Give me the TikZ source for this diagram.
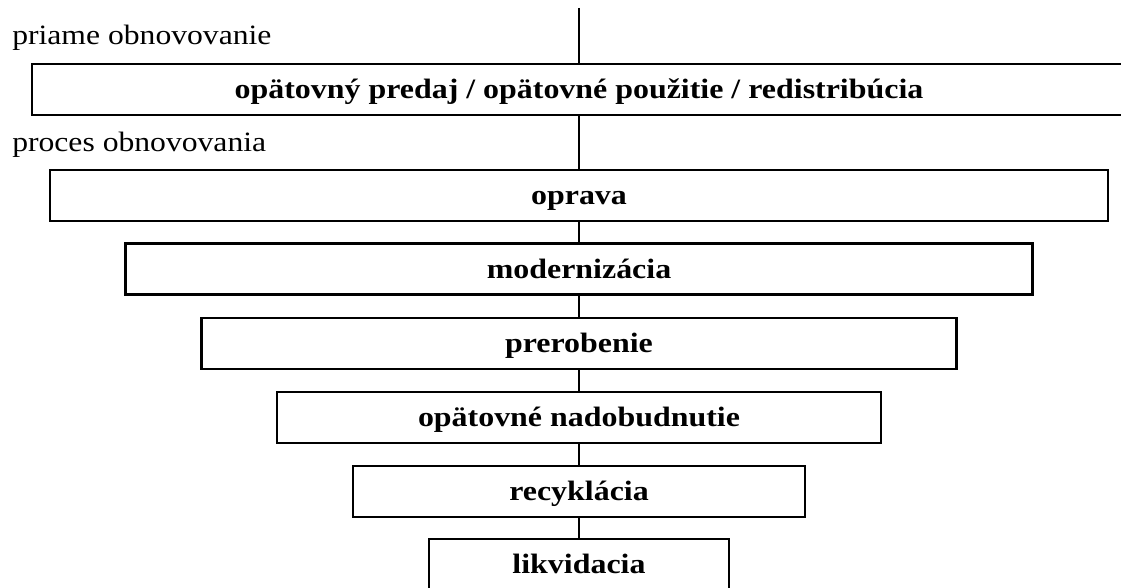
\documentclass[tikz,border=0pt]{standalone}
\usepackage{fontspec}
\setmainfont{Liberation Serif}
\usepackage{graphicx}
\usepackage{tikz}
\tikzset{%
  stage/.style={draw, line width=1.6pt, inner sep=0pt, outer sep=0pt,
    minimum height=51*0.75pt, text height=15pt, text depth=0.8pt,
    font=\fontsize{21}{25}\selectfont\bfseries},
  note/.style={anchor=base west, inner sep=0pt, font=\fontsize{21}{25}\selectfont}
}

\begin{document}
\begin{tikzpicture}[x=0.75pt, y=-0.75pt]
	\useasboundingbox (0,0) rectangle (1121,588);
	\node[note] (priame) at (12,45) {\scalebox{1.13}[1.0]{priame obnovovanie}};
	\node[note] (proces) at (12,152) {\scalebox{1.13}[1.0]{proces obnovovania}};
	\coordinate (top) at (579,8);
	\node[stage, minimum width=1094*0.75pt] (predaj) at (579,89.5) {\scalebox{1.14}[1.0]{opätovný predaj / opätovné použitie / redistribúcia}};
	\node[stage, minimum width=1058*0.75pt] (oprava) at (579,195.5) {\scalebox{1.14}[1.0]{oprava}};
	\node[stage, minimum width=907*0.75pt] (modern) at (579,269) {\scalebox{1.14}[1.0]{modernizácia}};
	\node[stage, minimum width=755*0.75pt] (prerob) at (579,343.5) {\scalebox{1.14}[1.0]{prerobenie}};
	\node[stage, minimum width=604*0.75pt] (nadob) at (579,417.5) {\scalebox{1.14}[1.0]{opätovné nadobudnutie}};
	\node[stage, minimum width=452*0.75pt] (recykl) at (579,491.5) {\scalebox{1.14}[1.0]{recyklácia}};
	\node[stage, minimum width=300*0.75pt] (likvid) at (579,564.5) {\scalebox{1.14}[1.0]{likvidacia}};
	\draw[line width=1.4pt] (top) -- (predaj);
	\draw[line width=1.4pt] (predaj) -- (oprava);
	\draw[line width=1.4pt] (oprava) -- (modern);
	\draw[line width=1.4pt] (modern) -- (prerob);
	\draw[line width=1.4pt] (prerob) -- (nadob);
	\draw[line width=1.4pt] (nadob) -- (recykl);
	\draw[line width=1.4pt] (recykl) -- (likvid);
\end{tikzpicture}
\end{document}
